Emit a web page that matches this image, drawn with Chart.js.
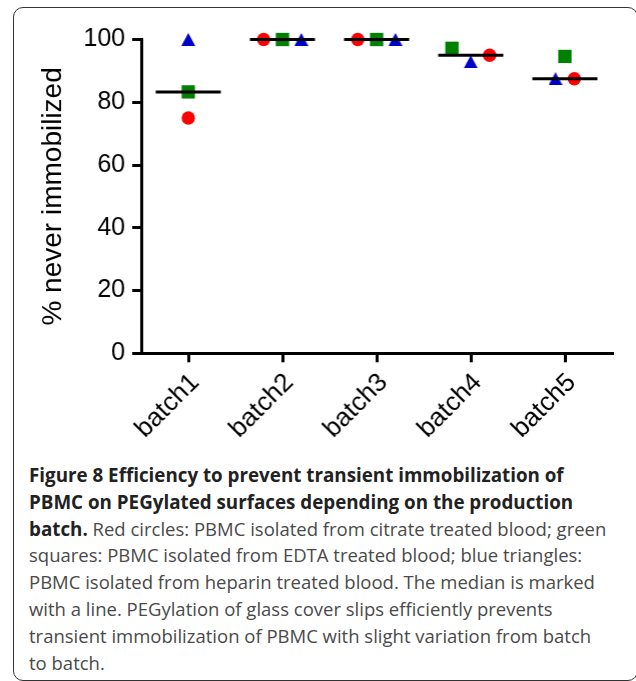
<!DOCTYPE html>
<html>
<head>
<meta charset="utf-8">
<script src="https://cdn.jsdelivr.net/npm/chart.js@4.4.1/dist/chart.umd.min.js"></script>
<style>
  body { margin: 0; background: #fff; width: 636px; height: 681px; overflow: hidden; position: relative; }
  #frame { position: absolute; left: 13px; top: 7px; width: 625px; height: 674px; box-sizing: border-box;
           border: 1.5px solid #333; border-radius: 10px; pointer-events: none; }
  /* the median markers reserve ~35px on the right, so the canvas runs a bit past the page edge */
  #wrap { position: absolute; left: 0; top: 0; width: 646.5px; height: 460px; }
  #caption { position: absolute; left: 29px; top: 462px; width: 610px; font-family: "Open Sans", sans-serif;
             font-size: 18.5px; line-height: 26.8px; color: #4a4a4a; white-space: nowrap; }
  #caption b { font-weight: 700; font-size: 18.8px; color: #222; }
</style>
</head>
<body>
<div id="frame"></div>
<div id="wrap"><canvas id="chart"></canvas></div>
<div id="caption">
  <b>Figure 8 Efficiency to prevent transient immobilization of</b><br>
  <b>PBMC on PEGylated surfaces depending on the production</b><br>
  <b>batch.</b> Red circles: PBMC isolated from citrate treated blood; green<br>
  squares: PBMC isolated from EDTA treated blood; blue triangles:<br>
  PBMC isolated from heparin treated blood. The median is marked<br>
  with a line. PEGylation of glass cover slips efficiently prevents<br>
  transient immobilization of PBMC with slight variation from batch<br>
  to batch.
</div>
<script>
// values
const batches = ['batch1', 'batch2', 'batch3', 'batch4', 'batch5'];
const citrate = [75, 100, 100, 95, 87.5];     // red circles
const edta = [83.3, 100, 100, 97.2, 94.6];    // green squares
const heparin = [100, 100, 100, 92.9, 87.5];  // blue triangles
const yTicks = [0, 20, 40, 60, 80, 100];

// horizontal spread of overlapping symbols (in symbol slots)
const citrateSlot = [0, -1, -1, 1, 0.5];
const edtaSlot = [0, 0, 0, -1, 0];
const heparinSlot = [0, 1, 1, 0, -0.5];
const slotWidth = 0.2;

function median(arr) {
    const s = [...arr].sort((a, b) => a - b);
    const m = Math.floor(s.length / 2);
    return s.length % 2 ? s[m] : (s[m - 1] + s[m]) / 2;
}

function points(values, slots) {
    return values.map((v, i) => ({ x: i + 1 + slots[i] * slotWidth, y: v }));
}

// triangle centred on its box, like the original plot
function triangleImage(color, w, h) {
    const c = document.createElement('canvas');
    c.width = w; c.height = h;
    const g = c.getContext('2d');
    g.fillStyle = color;
    g.beginPath();
    g.moveTo(w / 2, 0);
    g.lineTo(w, h);
    g.lineTo(0, h);
    g.closePath();
    g.fill();
    return c;
}

const medians = batches.map((b, i) => ({ x: i + 1, y: median([citrate[i], edta[i], heparin[i]]) }));

const ctx = document.getElementById('chart').getContext('2d');
new Chart(ctx, {
    type: 'scatter',
    data: {
        datasets: [
            {
                label: 'median', data: medians, order: 0,
                pointStyle: 'line', pointRadius: 32.5, borderColor: '#000', borderWidth: 3
            },
            {
                label: 'citrate', data: points(citrate, citrateSlot), order: 1,
                pointStyle: 'circle', pointRadius: 6.7, backgroundColor: '#ff0000', borderColor: '#ff0000', borderWidth: 0
            },
            {
                label: 'EDTA', data: points(edta, edtaSlot), order: 1,
                pointStyle: 'rect', pointRadius: 9.4, backgroundColor: '#008000', borderColor: '#008000', borderWidth: 0
            },
            {
                label: 'heparin', data: points(heparin, heparinSlot), order: 1,
                pointStyle: triangleImage('#0000cc', 14, 13), pointRadius: 7, backgroundColor: '#0000cc', borderWidth: 0
            }
        ]
    },
    options: {
        responsive: true,
        maintainAspectRatio: false,
        animation: false,
        clip: false,
        layout: { padding: { top: 39.5, right: 0, left: 0, bottom: 0 } },
        plugins: { legend: { display: false }, tooltip: { enabled: false } },
        scales: {
            x: {
                type: 'linear',
                min: 0.5,
                max: batches.length + 0.5,
                afterBuildTicks: s => { s.ticks = batches.map((b, i) => ({ value: i + 1 })); },
                afterFit: s => { s.height = 460 - 353.3; },
                grid: { drawOnChartArea: false, drawTicks: true, tickLength: 9, lineWidth: 3, color: '#000' },
                border: { display: true, width: 3, color: '#000' },
                ticks: {
                    minRotation: 45, maxRotation: 45, padding: 5, labelOffset: 7, color: '#000',
                    font: { family: 'Liberation Sans, Arial, sans-serif', size: 26 },
                    callback: v => batches[v - 1]
                }
            },
            y: {
                min: 0,
                max: 100,
                afterBuildTicks: s => { s.ticks = yTicks.map(v => ({ value: v })); },
                afterFit: s => { s.width = 141; },
                grid: { drawOnChartArea: false, drawTicks: true, tickLength: 9, lineWidth: 3, color: '#000' },
                border: { display: true, width: 3, color: '#000' },
                ticks: {
                    padding: 7, color: '#000',
                    font: { family: 'Liberation Sans, Arial, sans-serif', size: 25 }
                },
                title: {
                    display: true, text: '% never immobilized', color: '#000',
                    padding: { top: 36, bottom: 0 },
                    font: { family: 'Liberation Sans, Arial, sans-serif', size: 28 }
                }
            }
        }
    }
});
</script>
</body>
</html>
